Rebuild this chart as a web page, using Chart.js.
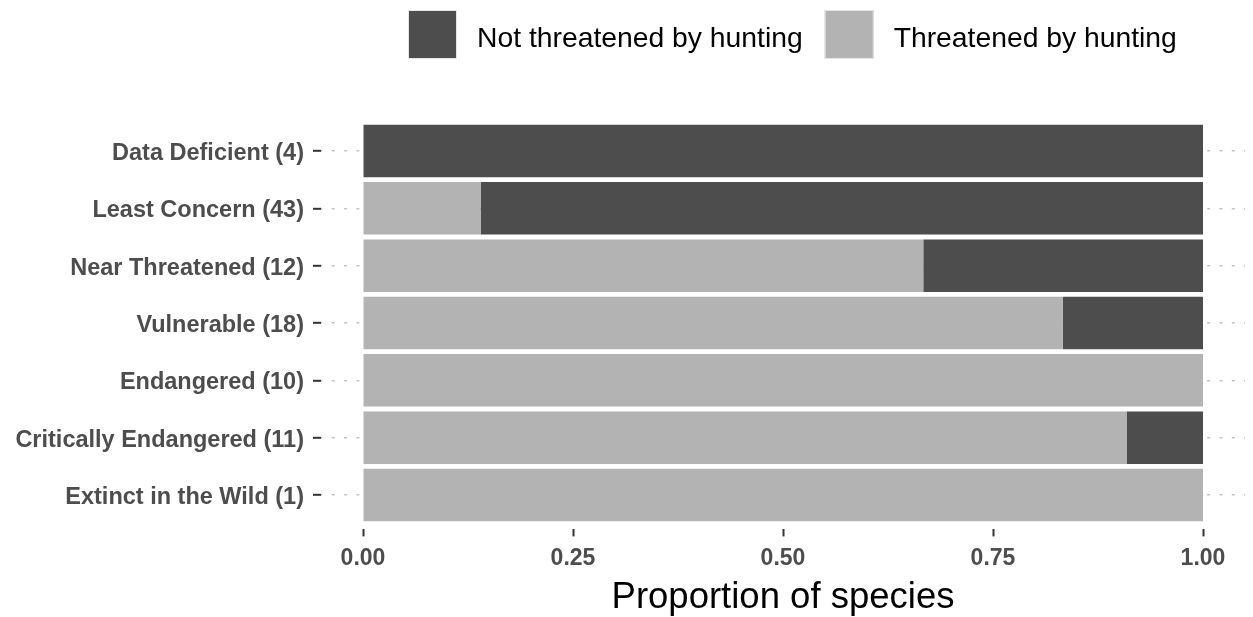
<!DOCTYPE html>
<html>
<head>
<meta charset="utf-8">
<script src="https://cdn.jsdelivr.net/npm/chart.js@4"></script>
<style>
  html, body { margin: 0; padding: 0; background: #ffffff; }
  canvas { display: block; }
</style>
</head>
<body>
<canvas id="c" width="1253" height="617"></canvas>
<script>
// ---- data ----
const categories = [
  "Data Deficient (4)",
  "Least Concern (43)",
  "Near Threatened (12)",
  "Vulnerable (18)",
  "Endangered (10)",
  "Critically Endangered (11)",
  "Extinct in the Wild (1)"
];
const threatened    = [0.000, 0.140, 0.667, 0.833, 1.000, 0.909, 1.000];
const notThreatened = [1.000, 0.860, 0.333, 0.167, 0.000, 0.091, 0.000];
const seriesLabels  = ["Not threatened by hunting", "Threatened by hunting"];
const xTicks        = [0, 0.25, 0.5, 0.75, 1.0];
const xTickLabels   = ["0.00", "0.25", "0.50", "0.75", "1.00"];
const xTitle        = "Proportion of species";

const FONT = '"Liberation Sans", Arial, Helvetica, sans-serif';
Chart.defaults.font.family = FONT;

const legendPlugin = {
  id: 'ggLegend',
  afterDraw(chart) {
    const ctx = chart.ctx;
    // legend order: Not threatened, Threatened
    const items = [chart.data.datasets[1], chart.data.datasets[0]];
    ctx.save();
    ctx.font = '28.3px ' + FONT;
    ctx.textBaseline = 'middle';
    ctx.textAlign = 'left';
    let x = 408;
    const y0 = 10, box = 49;
    items.forEach(ds => {
      ctx.fillStyle = ds.backgroundColor;
      ctx.fillRect(x, y0, box, box);
      ctx.strokeStyle = '#e6e6e6';
      ctx.lineWidth = 1;
      ctx.strokeRect(x + 0.5, y0 + 0.5, box - 1, box - 1);
      x += box + 20;
      ctx.fillStyle = '#000000';
      ctx.fillText(ds.label, x, y0 + box / 2 + 4.5);
      x += ctx.measureText(ds.label).width + 22;
    });
    ctx.restore();
  }
};

new Chart(document.getElementById('c'), {
  type: 'bar',
  data: {
    datasets: [
      {
        label: seriesLabels[1],
        data: threatened.map((v, i) => ({ x: v, y: i })),
        backgroundColor: '#B3B3B3',
        borderWidth: 0
      },
      {
        label: seriesLabels[0],
        data: notThreatened.map((v, i) => ({ x: v, y: i })),
        backgroundColor: '#4D4D4D',
        borderWidth: 0
      }
    ]
  },
  options: {
    indexAxis: 'y',
    responsive: false,
    animation: false,
    devicePixelRatio: 1,
    events: [],
    datasets: { bar: { categoryPercentage: 1.0, barPercentage: 0.915 } },
    layout: { padding: { top: 116.6, right: 8, left: 0, bottom: 0 } },
    plugins: {
      legend: { display: false },
      tooltip: { enabled: false },
      title: { display: false }
    },
    scales: {
      x: {
        type: 'linear',
        stacked: true,
        offset: false,
        min: -0.05,
        max: 1.05,
        afterBuildTicks: s => { s.ticks = xTicks.map(v => ({ value: v })); },
        afterFit: s => { s.height = 87.6; },
        ticks: {
          autoSkip: false,
          maxRotation: 0,
          padding: 8,
          color: '#4D4D4D',
          font: { size: 23, weight: 'bold' },
          callback: (v, i) => xTickLabels[i]
        },
        grid: {
          offset: false,
          drawOnChartArea: false,
          drawTicks: true,
          tickLength: 7,
          tickColor: '#333333',
          tickWidth: 2
        },
        border: { display: false },
        title: {
          display: true,
          text: xTitle,
          color: '#000000',
          font: { size: 36.5 },
          padding: { top: 0, bottom: -3 }
        }
      },
      y: {
        type: 'linear',
        stacked: true,
        reverse: true,
        offset: false,
        min: -0.6,
        max: 6.6,
        afterBuildTicks: s => { s.ticks = categories.map((c, i) => ({ value: i })); },
        afterFit: s => { s.width = 321; },
        ticks: {
          autoSkip: false,
          padding: 9,
          labelOffset: 2.5,
          color: '#4D4D4D',
          font: { size: 23.5, weight: 'bold' },
          callback: (v, i) => categories[i]
        },
        grid: {
          offset: false,
          color: '#C2C2C2',
          lineWidth: 1.6,
          drawTicks: true,
          tickLength: 8,
          tickColor: '#333333',
          tickWidth: 2,
          tickBorderDash: []
        },
        border: { display: false, dash: [3, 9.33], dashOffset: 1.6 }
      }
    }
  },
  plugins: [legendPlugin]
});
</script>
</body>
</html>
